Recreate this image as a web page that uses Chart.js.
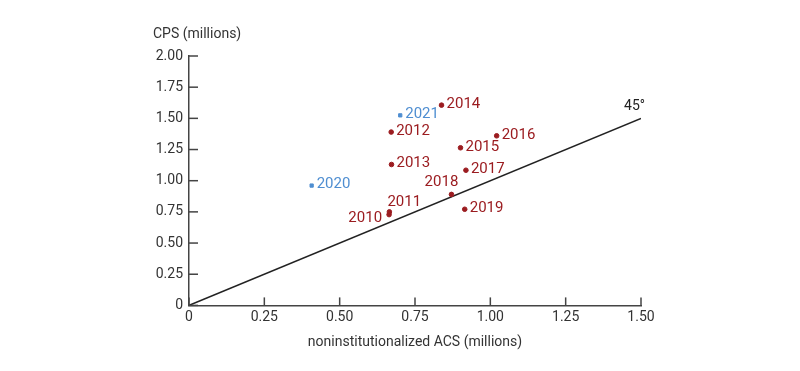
<!DOCTYPE html>
<html>
<head>
<meta charset="utf-8">
<script src="https://cdn.jsdelivr.net/npm/chart.js@4"></script>
<style>
  html, body { margin: 0; padding: 0; background: #fff; }
  #wrap { width: 800px; height: 371px; }
</style>
</head>
<body>
<div id="wrap"><canvas id="chart"></canvas></div>
<script>
// years 2010-2019 (red dots)
var years = ['2010', '2011', '2012', '2013', '2014', '2015', '2016', '2017', '2018', '2019'];
var acsValues = [0.664, 0.665, 0.671, 0.672, 0.838, 0.901, 1.021, 0.919, 0.871, 0.915];
var cpsValues = [0.728, 0.750, 1.390, 1.130, 1.606, 1.264, 1.360, 1.084, 0.890, 0.771];

// pandemic years (blue squares)
var covidYears = ['2020', '2021'];
var covidAcs = [0.407, 0.701];
var covidCps = [0.961, 1.524];

// 45 degree reference line
var lineX = [0, 1.5];
var lineY = [0, 1.5];

var xTicks = [0, 0.25, 0.5, 0.75, 1, 1.25, 1.5];
var yTicks = [0, 0.25, 0.5, 0.75, 1, 1.25, 1.5, 1.75, 2];

var RED = '#9b1c20';
var BLUE = '#4f8ed1';
var TEXT = '#333333';
var FONT = 'Roboto, "Noto Sans", sans-serif';

// where each label sits relative to its point (px)
var labelPos = {
    '2010': { dx: -7, dy: 4, align: 'right' },
    '2011': { dx: -2, dy: -10, align: 'left' },
    '2018': { dx: -10, dy: -12, align: 'center' }
};

function toPoints(xs, ys) {
    return xs.map(function (x, i) { return { x: x, y: ys[i] }; });
}

function fmt(v) {
    return v === 0 ? '0' : v.toFixed(2);
}

var extras = {
    id: 'extras',
    afterDraw: function (chart) {
        var ctx = chart.ctx;
        var area = chart.chartArea;
        var xs = chart.scales.x, ys = chart.scales.y;
        ctx.save();
        // inward tick marks
        ctx.strokeStyle = '#444';
        ctx.lineWidth = 1.5;
        xTicks.forEach(function (t) {
            var px = xs.getPixelForValue(t);
            ctx.beginPath();
            ctx.moveTo(px, area.bottom);
            ctx.lineTo(px, area.bottom - 8);
            ctx.stroke();
        });
        yTicks.forEach(function (t) {
            var py = ys.getPixelForValue(t);
            ctx.beginPath();
            ctx.moveTo(area.left, py);
            ctx.lineTo(area.left + 9, py);
            ctx.stroke();
        });
        // point labels
        ctx.font = '15px ' + FONT;
        ctx.textBaseline = 'middle';
        [0, 1].forEach(function (di) {
            var meta = chart.getDatasetMeta(di);
            var labels = di === 0 ? years : covidYears;
            ctx.fillStyle = di === 0 ? RED : BLUE;
            meta.data.forEach(function (el, i) {
                var p = labelPos[labels[i]] || { dx: 5, dy: -1, align: 'left' };
                ctx.textAlign = p.align;
                ctx.fillText(labels[i], el.x + p.dx, el.y + p.dy);
            });
        });
        // 45° label and y-axis title
        ctx.font = '14px ' + FONT;
        ctx.fillStyle = '#222';
        ctx.textAlign = 'right';
        ctx.fillText('45°', xs.getPixelForValue(1.5) + 4, ys.getPixelForValue(1.5) - 12);
        ctx.fillStyle = TEXT;
        ctx.textAlign = 'left';
        ctx.fillText('CPS (millions)', area.left - 36, area.top - 22);
        ctx.restore();
    }
};

new Chart(document.getElementById('chart'), {
    type: 'scatter',
    data: {
        datasets: [
            {
                label: '2010-2019',
                data: toPoints(acsValues, cpsValues),
                backgroundColor: RED,
                borderColor: RED,
                pointRadius: 2.3,
                pointHoverRadius: 2.3
            },
            {
                label: '2020-2021',
                data: toPoints(covidAcs, covidCps),
                backgroundColor: BLUE,
                borderColor: BLUE,
                pointStyle: 'rect',
                pointRadius: 2.3,
                pointHoverRadius: 2.3
            },
            {
                type: 'line',
                label: '45°',
                data: toPoints(lineX, lineY),
                borderColor: '#222',
                borderWidth: 1.5,
                pointRadius: 0,
                fill: false
            }
        ]
    },
    options: {
        responsive: true,
        maintainAspectRatio: false,
        animation: false,
        layout: { padding: { left: 139, right: 159, top: 56, bottom: 20 } },
        plugins: {
            legend: { display: false },
            tooltip: { enabled: false }
        },
        scales: {
            x: {
                type: 'linear',
                min: 0,
                max: 1.5,
                afterBuildTicks: function (s) { s.ticks = xTicks.map(function (v) { return { value: v }; }); },
                ticks: { callback: fmt, color: TEXT, font: { family: FONT, size: 14 }, padding: 4, maxRotation: 0 },
                grid: { display: false, drawTicks: false },
                border: { display: true, color: '#444', width: 1.5 },
                title: {
                    display: true,
                    text: 'noninstitutionalized ACS (millions)',
                    color: TEXT,
                    font: { family: FONT, size: 14 },
                    padding: { top: 4, bottom: 0 }
                }
            },
            y: {
                type: 'linear',
                min: 0,
                max: 2,
                afterBuildTicks: function (s) { s.ticks = yTicks.map(function (v) { return { value: v }; }); },
                afterFit: function (s) { s.width = 50; },
                ticks: { callback: fmt, color: TEXT, font: { family: FONT, size: 14 }, padding: 6 },
                grid: { display: false, drawTicks: false },
                border: { display: true, color: '#444', width: 1.5 }
            }
        }
    },
    plugins: [extras]
});
</script>
</body>
</html>
